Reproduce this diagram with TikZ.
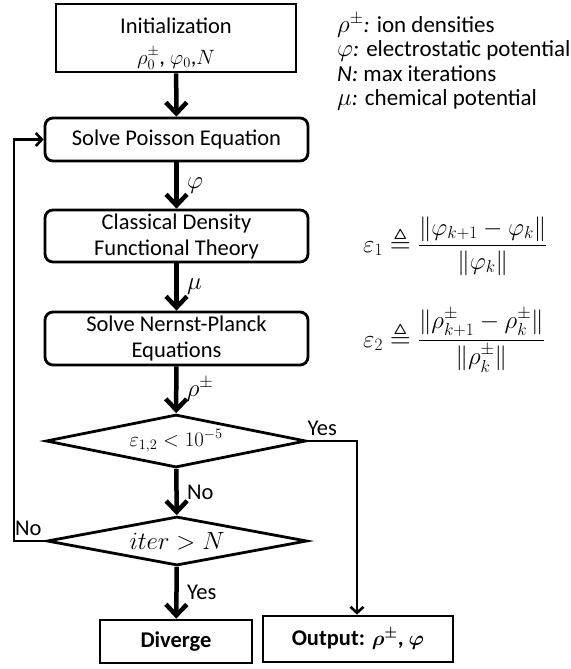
\documentclass[tikz,border=0pt]{standalone}
\usepackage{amsmath,amssymb}
\usepackage{fontspec}
\setmainfont{Carlito}
\usetikzlibrary{arrows.meta,shapes.geometric,calc}
\begin{document}
\begin{tikzpicture}[x=1pt,y=-1pt,
  every node/.style={font=\fontsize{22.5}{26}\selectfont},
  sqbox/.style={draw,line width=2.8pt,rectangle,inner sep=2pt,align=center},
  rbox/.style={draw,line width=2.8pt,rectangle,rounded corners=8pt,minimum width=263pt,align=center,inner sep=2pt},
  decision/.style={draw,line width=2.8pt,diamond,aspect=6,inner sep=0pt,minimum width=260pt},
  bigarrow/.style={line width=4.5pt,-{Straight Barb[length=11pt,width=21pt]}},
  thinarrow/.style={line width=2.6pt,-{Straight Barb[length=6pt,width=13pt]}},
  lbl/.style={font=\fontsize{22.5}{26}\selectfont},
  mlbl/.style={font=\fontsize{25}{28}\selectfont},
  eqn/.style={anchor=base west,inner sep=0pt,font=\fontsize{27}{30}\selectfont}
]
\useasboundingbox (0,0) rectangle (570,669);

% nodes
\node[sqbox,minimum width=240pt,minimum height=68pt] (init) at (176,38)
  {\rule{0pt}{27pt}Initialization\\[5pt]$\rho_0^{\pm}$, $\varphi_0$,$N$};
\node[rbox,minimum height=43pt] (poisson) at (176.5,139.5) {Solve Poisson Equation};
\node[rbox,minimum height=52pt] (cdft) at (176.5,236) {Classical Density\\Functional Theory};
\node[rbox,minimum height=53pt] (np) at (176.5,338.5) {Solve Nernst-Planck\\Equations};
\node[decision,minimum height=53pt] (d1) at (176,441) {$\varepsilon_{1,2} < 10^{-5}$};
\node[decision,minimum height=49pt,font=\fontsize{25}{28}\selectfont] (d2) at (177,541) {$iter > N$};
\node[sqbox,minimum width=152pt,minimum height=43pt,font=\fontsize{22.5}{26}\selectfont\bfseries] (diverge) at (176,641.5) {Diverge};
\node[sqbox,minimum width=190pt,minimum height=46pt,font=\fontsize{22.5}{26}\selectfont\bfseries] (output) at (358,639)
  {Output: $\boldsymbol{\rho^{\pm}}$, $\boldsymbol{\varphi}$};

% legend
\node[anchor=north west,align=left,inner sep=0pt,font=\fontsize{23}{24.5}\selectfont] (legend) at (337,13)
  {$\rho^{\pm}$\textit{:} ion densities\\
   $\varphi$\textit{:} electrostatic potential\\
   \textit{N:} max iterations\\
   $\mu$\textit{:} chemical potential};

% equations
\node[eqn] (eq1) at (363,252)
  {$\varepsilon_1 \triangleq \dfrac{\lVert\varphi_{k+1}-\varphi_k\rVert}{\lVert\varphi_k\rVert}$};
\node[eqn] (eq2) at (363,347)
  {$\varepsilon_2 \triangleq \dfrac{\lVert\rho^{\pm}_{k+1}-\rho^{\pm}_k\rVert}{\lVert\rho^{\pm}_k\rVert}$};

% connectors
\draw[bigarrow] (init) -- (poisson);
\draw[bigarrow] (poisson) -- node[right=5pt,mlbl] {$\varphi$} (cdft);
\draw[bigarrow] (cdft) -- node[right=5pt,mlbl] {$\mu$} (np);
\draw[bigarrow] (np) -- node[right=5pt,mlbl] {$\rho^{\pm}$} (d1);
\draw[bigarrow] (d1) -- node[right=5pt,lbl] {No} (d2);
\draw[bigarrow] (d2) -- node[right=5pt,lbl] {Yes} (diverge);

\coordinate (loop) at (14,541);
\draw[thinarrow] (d2.west) -- node[above=1pt,pos=0.55,lbl] {No} (loop) |- (poisson.west);

\coordinate (rt) at (357,441);
\draw[thinarrow] (d1.east) -- node[above=1pt,pos=0.3,lbl] {Yes} (rt) -- (rt |- output.north);
\end{tikzpicture}
\end{document}
